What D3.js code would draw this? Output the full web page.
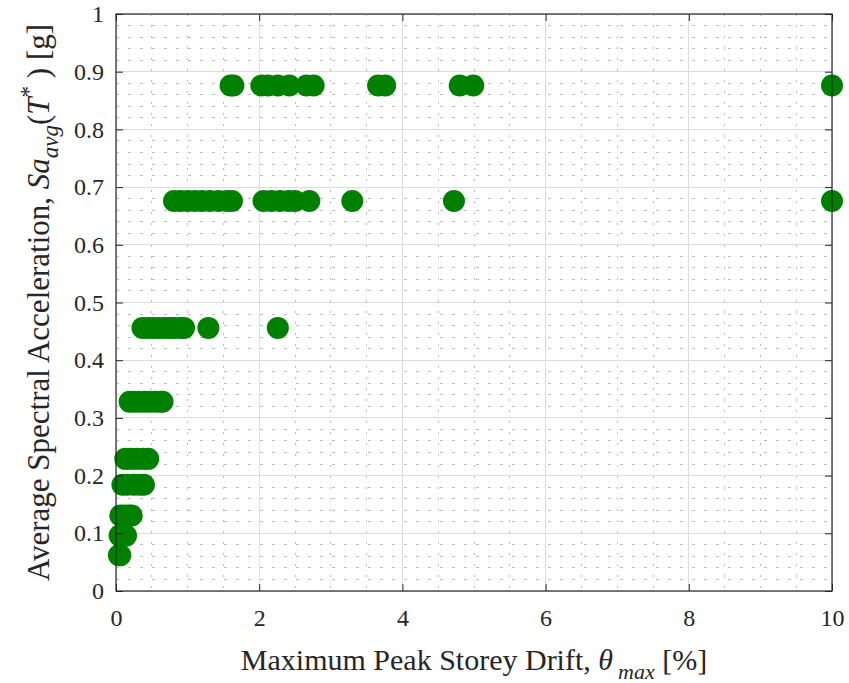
<!DOCTYPE html>
<html><head><meta charset="utf-8">
<script src="https://cdn.jsdelivr.net/npm/d3@7"></script>
<style>body{margin:0;background:#fff;} svg{display:block;}</style>
</head><body>
<svg id="chart" width="849" height="683"></svg>
<script>
// Intensity levels (Sa_avg, g) and the drifts (%) recorded at each level
const saLevels = [0.876, 0.676, 0.456, 0.328, 0.229, 0.184, 0.131, 0.096, 0.062];
const driftsL1 = [1.6, 1.64, 2.03, 2.12, 2.26, 2.42, 2.66, 2.76, 3.66, 3.76, 4.80, 4.99, 10];
const driftsL2 = [0.81, 0.9, 1.0, 1.1, 1.2, 1.31, 1.43, 1.55, 1.62, 2.06, 2.17, 2.29, 2.41, 2.5, 2.70, 3.30, 4.72, 10];
const driftsL3 = [0.37, 0.45, 0.52, 0.6, 0.68, 0.75, 0.82, 0.9, 0.95, 1.29, 2.26];
const driftsL4 = [0.19, 0.25, 0.32, 0.4, 0.47, 0.55, 0.62, 0.65];
const driftsL5 = [0.13, 0.2, 0.29, 0.38, 0.45];
const driftsL6 = [0.09, 0.16, 0.25, 0.33, 0.39];
const driftsL7 = [0.06, 0.12, 0.18, 0.22];
const driftsL8 = [0.05, 0.1, 0.14];
const driftsL9 = [0.04, 0.06];
const xTicks = [0, 2, 4, 6, 8, 10];
const yTicks = [0, 0.1, 0.2, 0.3, 0.4, 0.5, 0.6, 0.7, 0.8, 0.9, 1];
const xTickLabels = ["0", "2", "4", "6", "8", "10"];
const yTickLabels = ["0", "0.1", "0.2", "0.3", "0.4", "0.5", "0.6", "0.7", "0.8", "0.9", "1"];

const driftSets = [driftsL1, driftsL2, driftsL3, driftsL4, driftsL5, driftsL6, driftsL7, driftsL8, driftsL9];
const points = [];
driftSets.forEach((arr, i) => arr.forEach(d => points.push({x: d, y: saLevels[i]})));

const svg = d3.select("#chart");
const L = 116, R = 832, T = 14, B = 591;
const x = d3.scaleLinear().domain([0, 10]).range([L, R]);
const y = d3.scaleLinear().domain([0, 1]).range([B, T]);
const ink = "#262626";
const font = "'Liberation Serif', 'Times New Roman', serif";

const g = svg.append("g");
// minor grid
const xMinor = d3.range(0, 10.001, 0.5).filter(v => Math.abs(v/2 - Math.round(v/2)) > 1e-6);
const yMinor = d3.range(0, 1.0001, 0.02).filter(v => Math.abs(v*10 - Math.round(v*10)) > 1e-6);
g.selectAll(".xm").data(xMinor).enter().append("line")
  .attr("x1", d => x(d)).attr("x2", d => x(d)).attr("y1", T).attr("y2", B)
  .attr("stroke", "#bdbdbd").attr("stroke-width", 1).attr("stroke-dasharray", "2,9").attr("shape-rendering", "crispEdges");
g.selectAll(".ym").data(yMinor).enter().append("line")
  .attr("x1", L).attr("x2", R).attr("y1", d => y(d)).attr("y2", d => y(d))
  .attr("stroke", "#bdbdbd").attr("stroke-width", 1).attr("stroke-dasharray", "3,9").attr("shape-rendering", "crispEdges");
// major grid
g.selectAll(".xg").data(xTicks).enter().append("line")
  .attr("x1", d => x(d)).attr("x2", d => x(d)).attr("y1", T).attr("y2", B)
  .attr("stroke", "#dcdcdc").attr("stroke-width", 1).attr("shape-rendering", "crispEdges");
g.selectAll(".yg").data(yTicks).enter().append("line")
  .attr("x1", L).attr("x2", R).attr("y1", d => y(d)).attr("y2", d => y(d))
  .attr("stroke", "#dcdcdc").attr("stroke-width", 1).attr("shape-rendering", "crispEdges");

// points
svg.append("g").selectAll("circle").data(points).enter().append("circle")
  .attr("cx", d => x(d.x)).attr("cy", d => y(d.y)).attr("r", 11)
  .attr("fill", "#008000");

// axes (ticks inside)
const tl = 7;
const axB = svg.append("g").attr("transform", `translate(0,${B})`)
  .call(d3.axisBottom(x).tickValues(xTicks).tickFormat((d,i) => xTickLabels[i]).tickSizeInner(-tl).tickSizeOuter(0).tickPadding(18));
const axT = svg.append("g").attr("transform", `translate(0,${T})`)
  .call(d3.axisTop(x).tickValues(xTicks).tickFormat("").tickSizeInner(-tl).tickSizeOuter(0));
const axL = svg.append("g").attr("transform", `translate(${L},0)`)
  .call(d3.axisLeft(y).tickValues(yTicks).tickFormat((d,i) => yTickLabels[i]).tickSizeInner(-tl).tickSizeOuter(0).tickPadding(12));
const axR = svg.append("g").attr("transform", `translate(${R},0)`)
  .call(d3.axisRight(y).tickValues(yTicks).tickFormat("").tickSizeInner(-tl).tickSizeOuter(0));
[axB, axT, axL, axR].forEach(a => {
  a.select(".domain").remove();
  a.selectAll("line").attr("stroke", ink).attr("stroke-width", 1);
  a.selectAll("text").attr("fill", ink).style("font-family", font).style("font-size", "24px");
});
svg.append("rect").attr("x", L).attr("y", T).attr("width", R - L).attr("height", B - T)
  .attr("fill", "none").attr("stroke", ink).attr("stroke-width", 1.2);

// axis labels
const xl = svg.append("text").attr("x", (L + R) / 2).attr("y", 670).attr("text-anchor", "middle")
  .attr("fill", ink).style("font-family", font).style("font-size", "30px");
xl.append("tspan").text("Maximum Peak Storey Drift, ");
xl.append("tspan").style("font-style", "italic").text("θ");
xl.append("tspan").style("font-style", "italic").style("font-size", "22px").attr("dy", 9).attr("dx", 5).text("max");
xl.append("tspan").attr("dy", -9).text(" [%]");

const yl = svg.append("text").attr("transform", `translate(49,${(T + B) / 2}) rotate(-90)`).attr("text-anchor", "middle")
  .attr("fill", ink).style("font-family", font).style("font-size", "31px");
yl.append("tspan").text("Average Spectral Acceleration, ");
yl.append("tspan").style("font-style", "italic").text("Sa");
yl.append("tspan").style("font-style", "italic").style("font-size", "23px").attr("dy", 9).text("avg");
yl.append("tspan").attr("dy", -9).text("(");
yl.append("tspan").style("font-style", "italic").text("T");
yl.append("tspan").style("font-size", "23px").attr("dy", -13).text("*");
yl.append("tspan").attr("dy", 13).text(" ) [g]");
</script>
</body></html>
